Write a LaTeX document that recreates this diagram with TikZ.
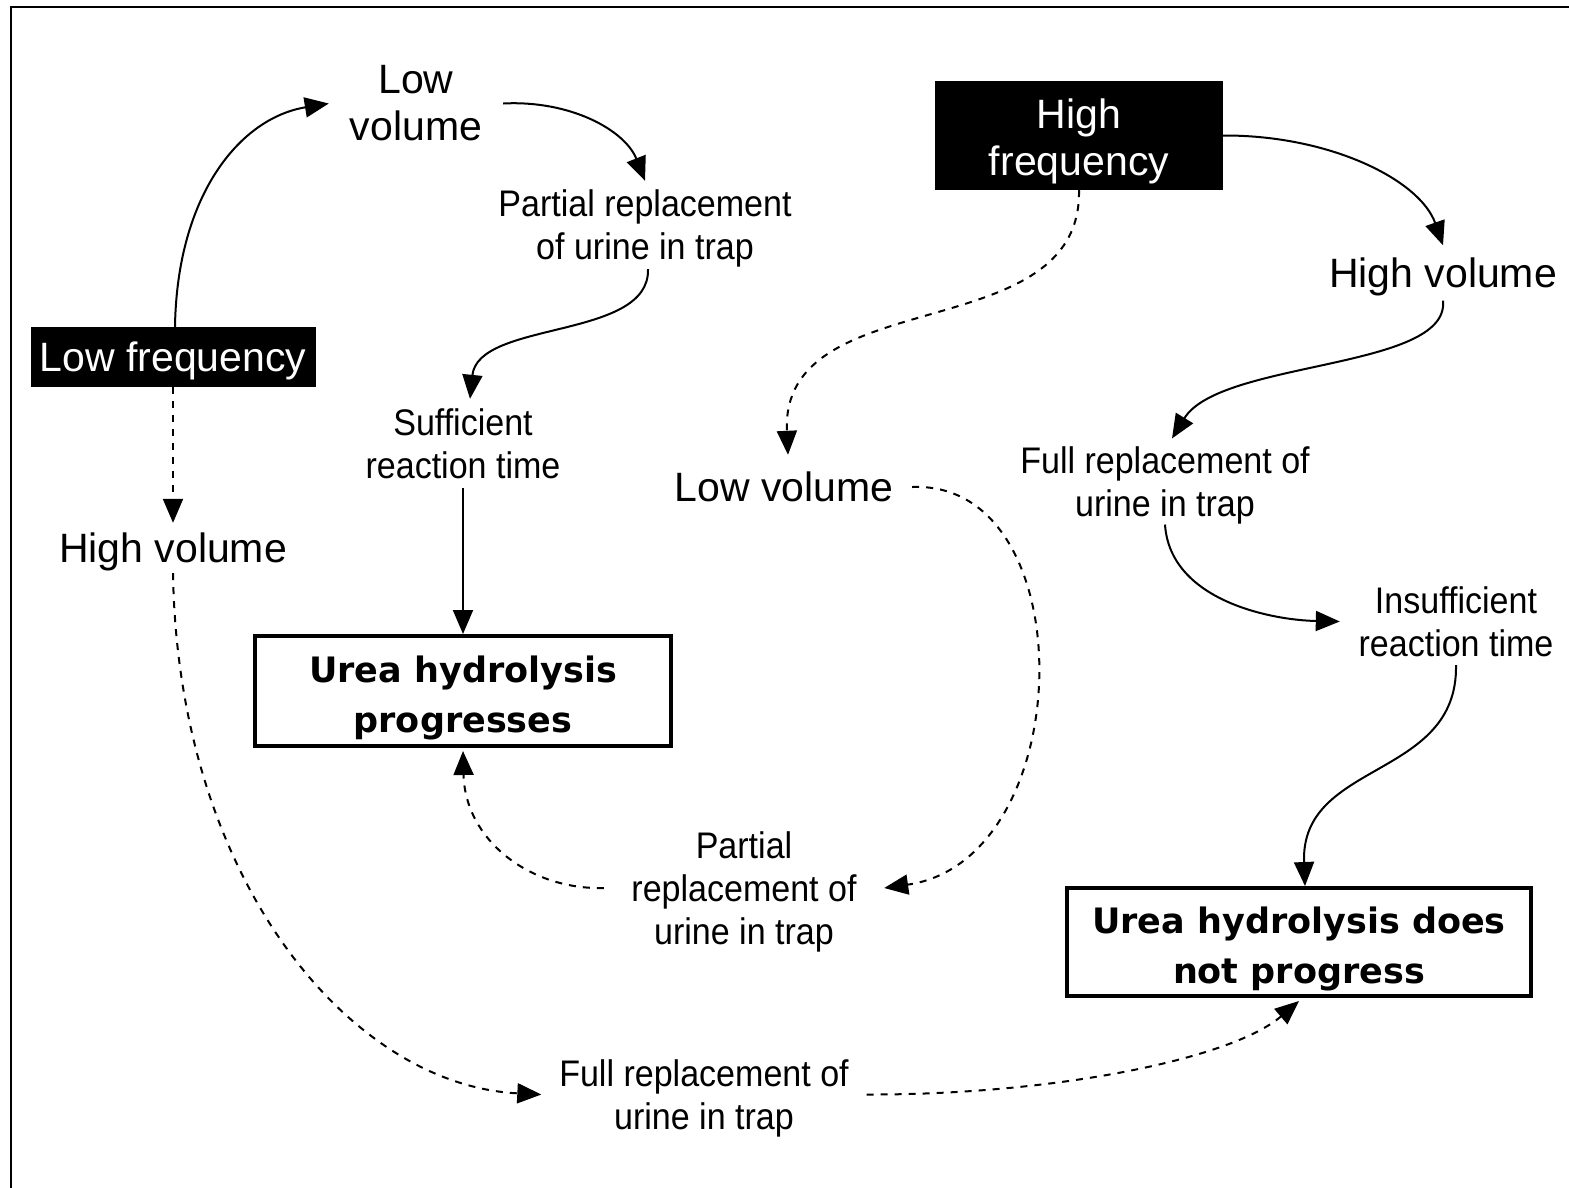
\documentclass[tikz,border=0pt]{standalone}
\usepackage{fontspec}
\setmainfont{Liberation Sans}
\newfontfamily\narrowf[FakeStretch=0.92]{Liberation Sans}
\newfontfamily\boxf{DejaVu Sans}
\usetikzlibrary{arrows.meta}
\newcommand\lift[1]{\rule{0pt}{#1}}
\begin{document}
\begin{tikzpicture}[x=1pt,y=-1pt,
  big/.style={font=\fontsize{41}{47}\selectfont, align=center, inner sep=0pt},
  small/.style={font=\narrowf\fontsize{37}{43}\selectfont, align=center, inner sep=0pt},
  dark/.style={big, fill=black, text=white},
  result/.style={draw, line width=4pt, font=\boxf\bfseries\fontsize{35}{50}\selectfont, align=center, inner sep=0pt},
  link/.style={line width=2pt, -{Triangle[length=24pt,width=20pt]}},
  dlink/.style={link, dash pattern=on 7pt off 7pt},
]
\useasboundingbox (0,0) rectangle (1569,1187);
\fill[white] (0,0) rectangle (1569,1187);
\draw[line width=2.5pt] (11,7) rectangle (1620,1240);

\node[big, minimum width=174, minimum height=90] (lowvolA) at (416,103.5) {Low\\volume};
\node[small, minimum width=230, minimum height=88] (partialA) at (645,225) {\lift{33pt}Partial replacement\\of urine in trap};
\node[small, minimum width=200, minimum height=89] (suff) at (463,443.5) {Sufficient\\reaction time};
\node[result, minimum width=416, minimum height=110] (box1) at (463,691) {\lift{40.5pt}Urea hydrolysis\\progresses};
\node[dark, minimum width=285, minimum height=60] (lfreq) at (173,357) {\lift{38pt}Low frequency};
\node[big, minimum width=240, minimum height=50] (highvolL) at (173,548) {\lift{38pt}High volume};
\node[small, minimum width=325, minimum height=80] (fullB) at (704,1094.5) {\lift{35pt}Full replacement of\\urine in trap};
\node[result, minimum width=464, minimum height=108] (box2) at (1299,942) {\lift{40.5pt}Urea hydrolysis does\\not progress};
\node[dark, minimum width=288, minimum height=109] (hfreq) at (1079,135.5) {\lift{42pt}High\\frequency};
\node[big, minimum width=230, minimum height=55] (highvolR) at (1443,273) {\lift{38pt}High volume};
\node[big, minimum width=256, minimum height=64] (lowvolM) at (784,487) {Low volume};
\node[small, minimum width=300, minimum height=84] (fullR) at (1165,481.5) {\lift{35pt}Full replacement of\\urine in trap};
\node[small, minimum width=232, minimum height=87] (insuff) at (1456,621.5) {Insufficient\\reaction time};
\node[small, minimum width=280, minimum height=84] (partialM) at (744,888) {\lift{35pt}Partial\\replacement of\\urine in trap};

% left chain
\draw[link] ([xshift=2pt]lfreq.north) .. controls (177,195) and (240,118) .. (lowvolA.west);
\draw[link] (lowvolA.east) .. controls (570,100) and (625,130) .. (partialA.north);
\draw[link] ([xshift=3pt]partialA.south) .. controls (650,340) and (478,320) .. ([xshift=7pt]suff.north);
\draw[link] (suff.south) -- (box1.north);
\draw[dlink] (lfreq.south) -- (highvolL.north);
\draw[dlink] (highvolL.south) .. controls (178,880) and (350,1085) .. (fullB.west);
\draw[dlink] (fullB.east) .. controls (1050,1095) and (1230,1060) .. ([yshift=-3pt]box2.south);

% right chain
\draw[dlink] (hfreq.south) .. controls (1082,350) and (780,280) .. ([xshift=4pt]lowvolM.north);
\draw[link] (hfreq.east) .. controls (1330,135) and (1420,180) .. (highvolR.north);
\draw[link] (highvolR.south) .. controls (1450,370) and (1220,360) .. ([xshift=7pt]fullR.north);
\draw[link] (fullR.south) .. controls (1170,600) and (1270,620) .. (insuff.west);
\draw[link] (insuff.south) .. controls (1458,780) and (1300,760) .. ([xshift=6pt]box2.north);
\draw[dlink] (lowvolM.east) .. controls (1085,480) and (1080,860) .. (partialM.east);
\draw[dlink] (partialM.west) .. controls (530,890) and (465,840) .. ([yshift=-3pt]box1.south);
\end{tikzpicture}
\end{document}
